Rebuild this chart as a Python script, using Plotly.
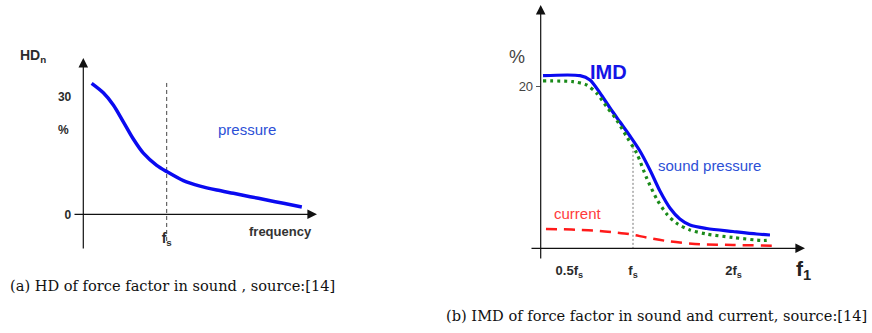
import plotly.graph_objects as go

# ---- data -------------------------------------------------------------
# (a) harmonic distortion of the force factor in sound pressure
hd_freq = [0.10, 0.24, 0.36, 0.48, 0.60, 0.72, 0.88, 1.00, 1.20, 1.40,
           1.60, 1.80, 2.00, 2.20, 2.40, 2.62]
hd_pressure = [33.4, 31.0, 27.9, 23.6, 19.2, 15.6, 12.5, 10.9, 8.6, 7.2,
               6.2, 5.36, 4.5, 3.65, 2.8, 1.86]
hd_yticks = [0, 30]
hd_yticklabels = ["0", "30"]
hd_xticks = [1.0]
hd_xticklabels = ["f<sub>s</sub>"]

# (b) intermodulation distortion versus f1 (frequency in units of fs)
imd_f1 = [0.025, 0.426, 0.534, 0.642, 0.751, 0.859, 0.967, 1.075, 1.184,
          1.292, 1.400, 1.508, 1.617, 1.798, 2.083, 2.340, 2.484]
imd_total = [21.27, 21.27, 20.74, 19.14, 17.29, 15.56, 13.84, 11.99, 9.65,
             7.06, 4.97, 3.61, 2.87, 2.44, 2.07, 1.76, 1.64]

snd_f1 = [0.025, 0.350, 0.498, 0.607, 0.715, 0.823, 0.932, 1.040, 1.148,
          1.257, 1.365, 1.473, 1.617, 1.798, 2.083, 2.408, 2.484]
imd_sound = [20.62, 20.53, 20.12, 19.10, 17.45, 15.81, 13.75, 11.71, 8.66,
             6.08, 4.23, 3.08, 2.26, 1.76, 1.33, 0.96, 1.02]

cur_f1 = [0.057, 0.245, 0.426, 0.607, 0.787, 0.967, 1.148, 1.400, 1.725,
          2.083, 2.528]
imd_current = [2.38, 2.34, 2.26, 2.17, 1.97, 1.73, 1.33, 0.84, 0.49, 0.41,
               0.32]

imd_yticks = [20]
imd_yticklabels = ["20"]
imd_xticks = [0.31, 1.0, 2.09]
imd_xticklabels = ["0.5f<sub>s</sub>", "f<sub>s</sub>", "2f<sub>s</sub>"]

fs_line_hd = [33.5, -7.3]
fs_line_imd = [12.5, 0.0]

# ---- page geometry (pixels) --------------------------------------------
W, H = 872, 333


def px(p):
    return p / W


def py(p):
    return 1 - p / H


# panel (a): origin pixel, pixels per unit, and drawing box
A_X0, A_XS, A_Y0, A_YS = 83.3, 83.4, 214.3, 3.92
A_BOX = (73, 317, 58, 250)          # left, right, top, bottom
# panel (b)
B_X0, B_XS, B_Y0, B_YS = 540.7, 92.3, 248.3, 8.115
B_BOX = (530, 805, 5, 260)


def xrange_of(box, x0, xs):
    return [(box[0] - x0) / xs, (box[1] - x0) / xs]


def yrange_of(box, y0, ys):
    return [(y0 - box[3]) / ys, (y0 - box[2]) / ys]


SANS = "Liberation Sans, Arial, sans-serif"
SERIF = "DejaVu Serif, serif"
DARK = "#2b2b2b"

fig = go.Figure()

# ---- panel (a) traces --------------------------------------------------
fig.add_trace(go.Scatter(
    x=[hd_xticks[0]] * 2, y=fs_line_hd, mode="lines",
    line=dict(color="#444444", width=1, dash="4px,3px"),
    xaxis="x", yaxis="y", hoverinfo="skip"))
fig.add_trace(go.Scatter(
    x=hd_freq, y=hd_pressure, mode="lines",
    line=dict(color="#0a0af0", width=3.5, shape="spline", smoothing=0.8),
    xaxis="x", yaxis="y"))

# ---- panel (b) traces --------------------------------------------------
fig.add_trace(go.Scatter(
    x=[imd_xticks[1]] * 2, y=fs_line_imd, mode="lines",
    line=dict(color="#777777", width=1, dash="2px,2px"),
    xaxis="x2", yaxis="y2", hoverinfo="skip"))
fig.add_trace(go.Scatter(
    x=cur_f1, y=imd_current, mode="lines",
    line=dict(color="#ff1a1a", width=2.5, dash="11px,7px",
              shape="spline", smoothing=0.8),
    xaxis="x2", yaxis="y2"))
fig.add_trace(go.Scatter(
    x=imd_f1, y=imd_total, mode="lines",
    line=dict(color="#0a0af0", width=3.2, shape="spline", smoothing=0.8),
    xaxis="x2", yaxis="y2"))
fig.add_trace(go.Scatter(
    x=snd_f1, y=imd_sound, mode="lines",
    line=dict(color="#1a8a1a", width=3.2, dash="3px,4px",
              shape="spline", smoothing=0.8),
    xaxis="x2", yaxis="y2"))

# ---- axes --------------------------------------------------------------
common = dict(showgrid=False, zeroline=False, showline=False, fixedrange=True)

fig.update_layout(
    xaxis=dict(domain=[px(A_BOX[0]), px(A_BOX[1])],
               range=xrange_of(A_BOX, A_X0, A_XS),
               anchor="free", position=py(A_Y0),
               tickvals=hd_xticks,
               ticktext=["<b>" + t + "</b>" for t in hd_xticklabels],
               ticks="", ticklabelstandoff=14,
               tickfont=dict(family=SANS, size=14, color=DARK),
               **common),
    yaxis=dict(domain=[py(A_BOX[3]), py(A_BOX[2])],
               range=yrange_of(A_BOX, A_Y0, A_YS),
               anchor="free", position=px(A_X0),
               tickvals=hd_yticks,
               ticktext=["<b>" + t + "</b>" for t in hd_yticklabels],
               ticks="", ticklabelstandoff=12,
               tickfont=dict(family=SANS, size=12, color=DARK),
               **common),
    xaxis2=dict(domain=[px(B_BOX[0]), px(B_BOX[1])],
                range=xrange_of(B_BOX, B_X0, B_XS),
                anchor="free", position=py(B_Y0),
                tickvals=imd_xticks,
                ticktext=["<b>" + t + "</b>" for t in imd_xticklabels],
                ticks="", ticklabelstandoff=13,
                tickfont=dict(family=SANS, size=13, color=DARK),
                **common),
    yaxis2=dict(domain=[py(B_BOX[3]), py(B_BOX[2])],
                range=yrange_of(B_BOX, B_Y0, B_YS),
                anchor="free", position=px(B_X0),
                tickvals=imd_yticks, ticktext=imd_yticklabels,
                ticks="outside", ticklen=5, tickcolor="#555555",
                tickfont=dict(family=SANS, size=13, color="#444444"),
                **common),
)

# ---- axis arrows -------------------------------------------------------
arrow = dict(showarrow=True, text="", arrowhead=2, arrowsize=1.6,
             arrowwidth=1.2, arrowcolor="#111111", standoff=0, startstandoff=0)
ann = []
for xr, yr, box, x0, xs, y0, ys in (("x", "y", A_BOX, A_X0, A_XS, A_Y0, A_YS),
                                    ("x2", "y2", B_BOX, B_X0, B_XS, B_Y0, B_YS)):
    xl, xh = xrange_of(box, x0, xs)
    yl, yh = yrange_of(box, y0, ys)
    ann.append(dict(arrow, xref=xr, yref=yr, axref=xr, ayref=yr,
                    x=xh, y=0, ax=xl, ay=0))
    ann.append(dict(arrow, xref=xr, yref=yr, axref=xr, ayref=yr,
                    x=0, y=yh, ax=0, ay=yl))


def label(text, x, y, size, color=DARK, bold=False, family=SANS,
          xanchor="center"):
    if bold:
        text = "<b>" + text + "</b>"
    return dict(text=text, x=px(x), y=py(y), xref="paper", yref="paper",
                showarrow=False, xanchor=xanchor, yanchor="middle",
                font=dict(family=family, size=size, color=color))


ann += [
    label("HD<sub>n</sub>", 33, 56, 14, bold=True),
    label("%", 63, 130, 12, bold=True),
    label("pressure", 247, 129, 15, color="#2c4fd6"),
    label("frequency", 280, 231, 13, color="#333333", bold=True),
    label("%", 517, 57, 18, color="#444444"),
    label("IMD", 608, 72, 20, color="#1414e6", bold=True),
    label("sound pressure", 709, 165, 15, color="#2c4fd6"),
    label("current", 578, 214, 15, color="#ff3b3b"),
    label("f<sub>1</sub>", 803, 270, 21, color="#222222", bold=True),
    label("(a) HD of force factor in sound , source:[14]", 8, 285, 14.6,
          color="#111111", family=SERIF, xanchor="left"),
    label("(b) IMD of force factor in sound and current, source:[14]", 444,
          315, 14.6, color="#111111", family=SERIF, xanchor="left"),
]

fig.update_layout(
    annotations=ann,
    width=W, height=H, autosize=False,
    margin=dict(l=0, r=0, t=0, b=0),
    paper_bgcolor="white", plot_bgcolor="white",
    showlegend=False,
)

fig.write_html("out.html", config={"displayModeBar": False})
